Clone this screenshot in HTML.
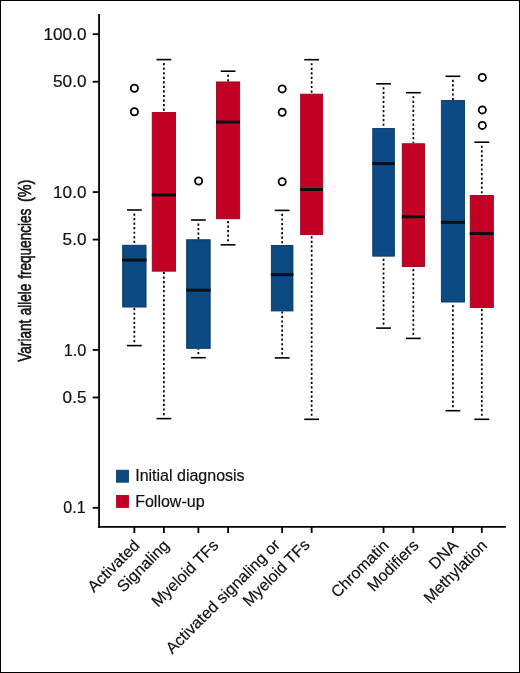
<!DOCTYPE html>
<html><head><meta charset="utf-8"><style>
html,body{margin:0;padding:0;background:#fff;}
#w{position:relative;width:518px;height:671px;border:1px solid #000;overflow:hidden;}
svg{position:absolute;left:-1px;top:-1px;will-change:transform;}
.t{font-family:"Liberation Sans",sans-serif;font-size:16px;fill:#111;stroke:#111;stroke-width:0.2;}
.yl{font-family:"Liberation Sans",sans-serif;font-size:19px;fill:#111;stroke:#111;stroke-width:0.6;}
.w{stroke:#000;stroke-width:1.7;stroke-dasharray:2.2 2.35;}
.c{stroke:#000;stroke-width:1.6;}
.m{stroke:#0a0f14;stroke-width:3;}
.o{fill:none;stroke:#000;stroke-width:1.8;}
.ax{stroke:#000;stroke-width:1.8;}
</style></head><body><div id="w">
<svg width="520" height="673" viewBox="0 0 520 673">
<line x1="134.35" y1="213.45" x2="134.35" y2="244.80" class="w"/>
<line x1="134.35" y1="342.15" x2="134.35" y2="307.50" class="w"/>
<line x1="126.95" y1="210.00" x2="141.75" y2="210.00" class="c"/>
<line x1="126.95" y1="345.60" x2="141.75" y2="345.60" class="c"/>
<rect x="122.65" y="245.25" width="23.40" height="61.80" fill="#0c4a83" stroke="#0a3866" stroke-width="0.9"/>
<line x1="122.20" y1="260.10" x2="146.50" y2="260.10" class="m"/>
<circle cx="134.40" cy="88.20" r="3.6" class="o"/>
<circle cx="134.40" cy="111.80" r="3.6" class="o"/>
<line x1="163.90" y1="63.05" x2="163.90" y2="112.10" class="w"/>
<line x1="163.90" y1="415.15" x2="163.90" y2="271.60" class="w"/>
<line x1="156.50" y1="59.60" x2="171.30" y2="59.60" class="c"/>
<line x1="156.50" y1="418.60" x2="171.30" y2="418.60" class="c"/>
<rect x="152.25" y="112.55" width="23.30" height="158.60" fill="#c20025" stroke="#a0001c" stroke-width="0.9"/>
<line x1="151.80" y1="194.90" x2="176.00" y2="194.90" class="m"/>
<line x1="198.40" y1="223.45" x2="198.40" y2="239.30" class="w"/>
<line x1="198.40" y1="354.25" x2="198.40" y2="348.80" class="w"/>
<line x1="191.00" y1="220.00" x2="205.80" y2="220.00" class="c"/>
<line x1="191.00" y1="357.70" x2="205.80" y2="357.70" class="c"/>
<rect x="186.65" y="239.75" width="23.50" height="108.60" fill="#0c4a83" stroke="#0a3866" stroke-width="0.9"/>
<line x1="186.20" y1="290.20" x2="210.60" y2="290.20" class="m"/>
<circle cx="198.60" cy="181.00" r="3.6" class="o"/>
<line x1="228.10" y1="74.65" x2="228.10" y2="81.50" class="w"/>
<line x1="228.10" y1="241.35" x2="228.10" y2="219.20" class="w"/>
<line x1="220.70" y1="71.20" x2="235.50" y2="71.20" class="c"/>
<line x1="220.70" y1="244.80" x2="235.50" y2="244.80" class="c"/>
<rect x="216.55" y="81.95" width="23.10" height="136.80" fill="#c20025" stroke="#a0001c" stroke-width="0.9"/>
<line x1="216.10" y1="122.05" x2="240.10" y2="122.05" class="m"/>
<line x1="282.15" y1="213.85" x2="282.15" y2="245.00" class="w"/>
<line x1="282.15" y1="354.45" x2="282.15" y2="311.40" class="w"/>
<line x1="274.75" y1="210.40" x2="289.55" y2="210.40" class="c"/>
<line x1="274.75" y1="357.90" x2="289.55" y2="357.90" class="c"/>
<rect x="271.35" y="245.45" width="21.60" height="65.50" fill="#0c4a83" stroke="#0a3866" stroke-width="0.9"/>
<line x1="270.90" y1="274.60" x2="293.40" y2="274.60" class="m"/>
<circle cx="282.20" cy="88.90" r="3.6" class="o"/>
<circle cx="282.20" cy="112.20" r="3.6" class="o"/>
<circle cx="282.20" cy="181.70" r="3.6" class="o"/>
<line x1="311.65" y1="63.15" x2="311.65" y2="93.70" class="w"/>
<line x1="311.65" y1="415.85" x2="311.65" y2="235.10" class="w"/>
<line x1="304.25" y1="59.70" x2="319.05" y2="59.70" class="c"/>
<line x1="304.25" y1="419.30" x2="319.05" y2="419.30" class="c"/>
<rect x="300.65" y="94.15" width="22.00" height="140.50" fill="#c20025" stroke="#a0001c" stroke-width="0.9"/>
<line x1="300.20" y1="189.50" x2="323.10" y2="189.50" class="m"/>
<line x1="383.55" y1="87.25" x2="383.55" y2="128.00" class="w"/>
<line x1="383.55" y1="324.65" x2="383.55" y2="256.60" class="w"/>
<line x1="376.15" y1="83.80" x2="390.95" y2="83.80" class="c"/>
<line x1="376.15" y1="328.10" x2="390.95" y2="328.10" class="c"/>
<rect x="372.75" y="128.45" width="21.60" height="127.70" fill="#0c4a83" stroke="#0a3866" stroke-width="0.9"/>
<line x1="372.30" y1="163.60" x2="394.80" y2="163.60" class="m"/>
<line x1="413.35" y1="96.15" x2="413.35" y2="143.30" class="w"/>
<line x1="413.35" y1="334.95" x2="413.35" y2="267.00" class="w"/>
<line x1="405.95" y1="92.70" x2="420.75" y2="92.70" class="c"/>
<line x1="405.95" y1="338.40" x2="420.75" y2="338.40" class="c"/>
<rect x="402.25" y="143.75" width="22.20" height="122.80" fill="#c20025" stroke="#a0001c" stroke-width="0.9"/>
<line x1="401.80" y1="216.70" x2="424.90" y2="216.70" class="m"/>
<line x1="452.90" y1="79.75" x2="452.90" y2="100.10" class="w"/>
<line x1="452.90" y1="407.25" x2="452.90" y2="302.50" class="w"/>
<line x1="445.50" y1="76.30" x2="460.30" y2="76.30" class="c"/>
<line x1="445.50" y1="410.70" x2="460.30" y2="410.70" class="c"/>
<rect x="441.35" y="100.55" width="23.10" height="201.50" fill="#0c4a83" stroke="#0a3866" stroke-width="0.9"/>
<line x1="440.90" y1="222.30" x2="464.90" y2="222.30" class="m"/>
<line x1="481.80" y1="145.65" x2="481.80" y2="195.00" class="w"/>
<line x1="481.80" y1="415.85" x2="481.80" y2="307.90" class="w"/>
<line x1="474.40" y1="142.20" x2="489.20" y2="142.20" class="c"/>
<line x1="474.40" y1="419.30" x2="489.20" y2="419.30" class="c"/>
<rect x="470.25" y="195.45" width="23.10" height="112.00" fill="#c20025" stroke="#a0001c" stroke-width="0.9"/>
<line x1="469.80" y1="233.50" x2="493.80" y2="233.50" class="m"/>
<circle cx="482.30" cy="77.40" r="3.6" class="o"/>
<circle cx="482.30" cy="109.90" r="3.6" class="o"/>
<circle cx="482.30" cy="125.40" r="3.6" class="o"/>
<line x1="92.7" y1="34.20" x2="99" y2="34.20" class="ax"/>
<text transform="translate(86.4,39.80) scale(1.07,1)" text-anchor="end" class="t">100.0</text>
<line x1="92.7" y1="81.72" x2="99" y2="81.72" class="ax"/>
<text transform="translate(86.4,87.32) scale(1.07,1)" text-anchor="end" class="t">50.0</text>
<line x1="92.7" y1="192.07" x2="99" y2="192.07" class="ax"/>
<text transform="translate(86.4,197.67) scale(1.07,1)" text-anchor="end" class="t">10.0</text>
<line x1="92.7" y1="239.59" x2="99" y2="239.59" class="ax"/>
<text transform="translate(86.4,245.19) scale(1.07,1)" text-anchor="end" class="t">5.0</text>
<line x1="92.7" y1="349.94" x2="99" y2="349.94" class="ax"/>
<text transform="translate(86.4,355.54) scale(1.02,1)" text-anchor="end" class="t">1.0</text>
<line x1="92.7" y1="397.46" x2="99" y2="397.46" class="ax"/>
<text transform="translate(86.4,403.06) scale(1.07,1)" text-anchor="end" class="t">0.5</text>
<line x1="92.7" y1="507.81" x2="99" y2="507.81" class="ax"/>
<text transform="translate(85.6,513.41) scale(1.0,1)" text-anchor="end" class="t">0.1</text>
<line x1="99.05" y1="13.9" x2="99.05" y2="527.9" class="ax"/>
<line x1="98.1" y1="526.9" x2="505.9" y2="526.9" class="ax"/>
<line x1="134.35" y1="526.9" x2="134.35" y2="533" class="ax"/>
<line x1="163.90" y1="526.9" x2="163.90" y2="533" class="ax"/>
<line x1="198.40" y1="526.9" x2="198.40" y2="533" class="ax"/>
<line x1="228.10" y1="526.9" x2="228.10" y2="533" class="ax"/>
<line x1="282.15" y1="526.9" x2="282.15" y2="533" class="ax"/>
<line x1="311.65" y1="526.9" x2="311.65" y2="533" class="ax"/>
<line x1="383.55" y1="526.9" x2="383.55" y2="533" class="ax"/>
<line x1="413.35" y1="526.9" x2="413.35" y2="533" class="ax"/>
<line x1="452.90" y1="526.9" x2="452.90" y2="533" class="ax"/>
<line x1="481.80" y1="526.9" x2="481.80" y2="533" class="ax"/>
<text transform="translate(136.65,542.5) rotate(-45)" x="0" y="5.5" text-anchor="end" class="t">Activated</text>
<text transform="translate(166.20,542.5) rotate(-45)" x="0" y="5.5" text-anchor="end" class="t">Signaling</text>
<text transform="translate(215.55,542.5) rotate(-45)" x="0" y="5.5" text-anchor="end" class="t">Myeloid TFs</text>
<text transform="translate(277.15,542.0) rotate(-45) scale(1.012,1)" x="0" y="5.5" text-anchor="end" class="t">Activated signaling or</text>
<text transform="translate(306.65,542.0) rotate(-45)" x="0" y="5.5" text-anchor="end" class="t">Myeloid TFs</text>
<text transform="translate(385.85,542.5) rotate(-45)" x="0" y="5.5" text-anchor="end" class="t">Chromatin</text>
<text transform="translate(415.65,542.5) rotate(-45)" x="0" y="5.5" text-anchor="end" class="t">Modifiers</text>
<text transform="translate(455.20,542.5) rotate(-45)" x="0" y="5.5" text-anchor="end" class="t">DNA</text>
<text transform="translate(484.10,542.5) rotate(-45)" x="0" y="5.5" text-anchor="end" class="t">Methylation</text>
<rect x="116.5" y="470.2" width="12" height="12" fill="#0c4a83" stroke="#0a3866" stroke-width="0.8"/>
<rect x="116.5" y="495.4" width="12" height="12" fill="#c20025" stroke="#a0001c" stroke-width="0.8"/>
<text x="135.2" y="481.3" class="t">Initial diagnosis</text>
<text x="135.2" y="506.8" class="t">Follow-up</text>
<g transform="translate(30.8,0) rotate(-90)"><text transform="translate(-361.72,0) scale(0.715,1)" class="yl">Variant</text><text transform="translate(-315.29,0) scale(0.715,1)" class="yl">allele</text><text transform="translate(-278.85,0) scale(0.715,1)" class="yl">frequencies</text><text transform="translate(-202.02,0) scale(0.76,1)" class="yl">(%)</text></g>
</svg></div></body></html>
